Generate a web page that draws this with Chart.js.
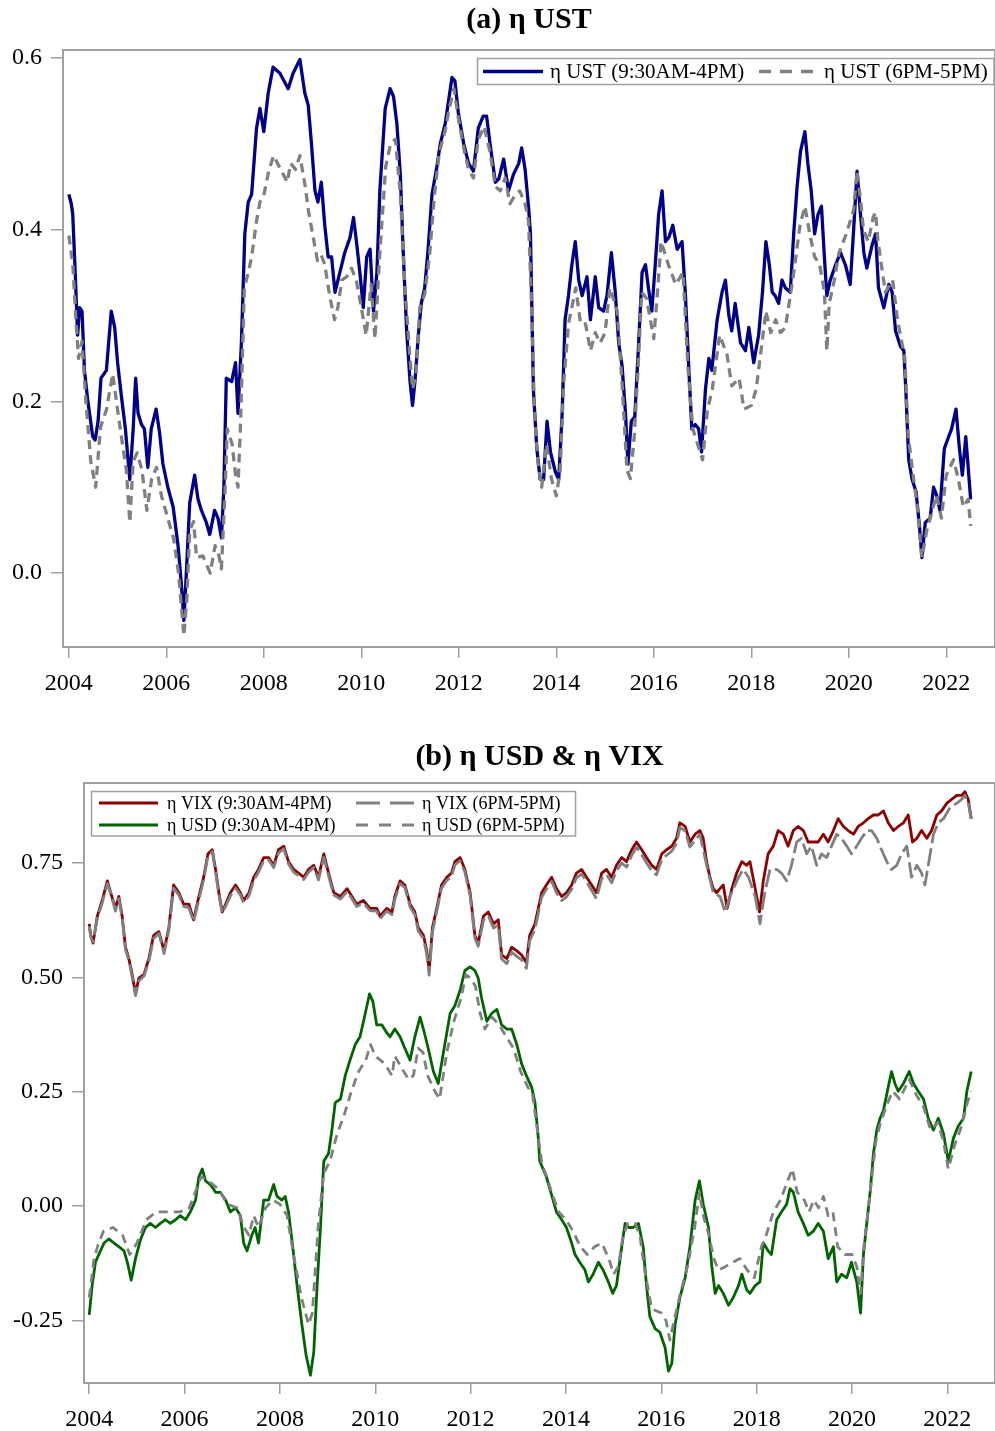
<!DOCTYPE html>
<html><head><meta charset="utf-8">
<script src="https://cdn.jsdelivr.net/npm/chart.js@4.4.0/dist/chart.umd.min.js"></script>
<style>
html,body{margin:0;padding:0;background:#fff;overflow:hidden;width:995px;height:1431px;}
#ca{position:absolute;left:0;top:0;}
#cb{position:absolute;left:0;top:715px;}
</style></head><body>
<canvas id="ca" width="1058" height="715"></canvas>
<canvas id="cb" width="1079" height="716"></canvas>
<script>
// ---------- DATA: [decimal year, value] ----------
const ustDay = [[2004.00,0.441],[2004.05,0.43],[2004.08,0.418],[2004.13,0.35],[2004.18,0.277],[2004.22,0.309],[2004.27,0.305],[2004.32,0.236],[2004.39,0.200],[2004.49,0.159],[2004.54,0.155],[2004.60,0.177],[2004.66,0.227],[2004.77,0.236],[2004.87,0.305],[2004.94,0.286],[2005.00,0.245],[2005.08,0.205],[2005.16,0.168],[2005.25,0.109],[2005.32,0.168],[2005.37,0.227],[2005.42,0.186],[2005.49,0.173],[2005.55,0.168],[2005.62,0.123],[2005.69,0.168],[2005.79,0.191],[2005.86,0.164],[2005.93,0.127],[2006.03,0.100],[2006.14,0.077],[2006.24,0.032],[2006.31,-0.014],[2006.36,-0.055],[2006.41,0.000],[2006.48,0.082],[2006.58,0.114],[2006.65,0.086],[2006.72,0.073],[2006.82,0.059],[2006.89,0.045],[2006.99,0.073],[2007.06,0.064],[2007.13,0.041],[2007.18,0.100],[2007.23,0.227],[2007.34,0.223],[2007.42,0.245],[2007.47,0.186],[2007.54,0.268],[2007.61,0.395],[2007.68,0.432],[2007.75,0.441],[2007.85,0.518],[2007.92,0.541],[2008.00,0.514],[2008.09,0.559],[2008.19,0.589],[2008.33,0.582],[2008.50,0.564],[2008.60,0.582],[2008.74,0.598],[2008.84,0.559],[2008.91,0.545],[2008.97,0.505],[2009.05,0.445],[2009.11,0.432],[2009.18,0.455],[2009.25,0.405],[2009.32,0.368],[2009.39,0.368],[2009.46,0.327],[2009.56,0.350],[2009.66,0.373],[2009.77,0.391],[2009.84,0.414],[2009.90,0.386],[2009.97,0.350],[2010.04,0.309],[2010.11,0.368],[2010.18,0.377],[2010.25,0.305],[2010.32,0.350],[2010.38,0.445],[2010.49,0.541],[2010.59,0.564],[2010.66,0.555],[2010.73,0.523],[2010.80,0.464],[2010.86,0.373],[2010.93,0.282],[2011.00,0.223],[2011.05,0.195],[2011.10,0.223],[2011.17,0.277],[2011.23,0.314],[2011.30,0.332],[2011.37,0.377],[2011.45,0.441],[2011.55,0.473],[2011.62,0.500],[2011.72,0.523],[2011.79,0.550],[2011.86,0.577],[2011.92,0.573],[2011.99,0.536],[2012.10,0.500],[2012.20,0.477],[2012.30,0.468],[2012.40,0.518],[2012.50,0.532],[2012.57,0.532],[2012.64,0.500],[2012.75,0.455],[2012.82,0.459],[2012.92,0.482],[2013.02,0.445],[2013.12,0.464],[2013.23,0.477],[2013.29,0.495],[2013.36,0.470],[2013.43,0.427],[2013.47,0.395],[2013.50,0.305],[2013.53,0.214],[2013.60,0.145],[2013.67,0.109],[2013.74,0.109],[2013.81,0.177],[2013.88,0.141],[2013.98,0.118],[2014.05,0.109],[2014.12,0.186],[2014.18,0.295],[2014.25,0.323],[2014.32,0.359],[2014.39,0.386],[2014.46,0.341],[2014.53,0.323],[2014.63,0.345],[2014.70,0.295],[2014.80,0.345],[2014.87,0.309],[2014.97,0.305],[2015.04,0.323],[2015.13,0.373],[2015.21,0.327],[2015.28,0.268],[2015.35,0.241],[2015.42,0.186],[2015.47,0.127],[2015.54,0.177],[2015.61,0.182],[2015.69,0.268],[2015.76,0.350],[2015.83,0.359],[2015.89,0.332],[2015.96,0.305],[2016.03,0.359],[2016.10,0.418],[2016.17,0.445],[2016.24,0.386],[2016.31,0.391],[2016.39,0.405],[2016.48,0.377],[2016.58,0.386],[2016.65,0.323],[2016.72,0.236],[2016.78,0.168],[2016.85,0.173],[2016.92,0.168],[2016.98,0.141],[2017.06,0.214],[2017.13,0.250],[2017.19,0.236],[2017.30,0.295],[2017.40,0.327],[2017.47,0.341],[2017.54,0.300],[2017.60,0.282],[2017.67,0.314],[2017.78,0.268],[2017.88,0.259],[2017.95,0.286],[2018.05,0.245],[2018.15,0.277],[2018.23,0.327],[2018.30,0.386],[2018.37,0.359],[2018.43,0.327],[2018.49,0.323],[2018.56,0.314],[2018.63,0.341],[2018.70,0.332],[2018.80,0.327],[2018.87,0.395],[2018.94,0.450],[2019.01,0.491],[2019.10,0.514],[2019.16,0.477],[2019.23,0.445],[2019.30,0.395],[2019.37,0.418],[2019.44,0.427],[2019.50,0.368],[2019.55,0.323],[2019.62,0.341],[2019.73,0.359],[2019.83,0.373],[2019.93,0.359],[2020.03,0.336],[2020.10,0.400],[2020.17,0.468],[2020.24,0.418],[2020.31,0.373],[2020.37,0.355],[2020.48,0.382],[2020.55,0.395],[2020.61,0.332],[2020.72,0.309],[2020.82,0.336],[2020.89,0.327],[2020.96,0.282],[2021.06,0.264],[2021.13,0.259],[2021.17,0.214],[2021.23,0.132],[2021.30,0.109],[2021.38,0.095],[2021.45,0.055],[2021.50,0.018],[2021.57,0.059],[2021.67,0.064],[2021.74,0.100],[2021.80,0.091],[2021.87,0.073],[2021.96,0.145],[2022.05,0.159],[2022.11,0.168],[2022.20,0.191],[2022.27,0.145],[2022.33,0.114],[2022.40,0.159],[2022.45,0.123],[2022.50,0.086]];

const ustNight = [[2004.00,0.393],[2004.08,0.36],[2004.15,0.29],[2004.20,0.25],[2004.27,0.27],[2004.35,0.20],[2004.45,0.13],[2004.55,0.100],[2004.65,0.17],[2004.77,0.19],[2004.90,0.232],[2005.00,0.19],[2005.10,0.15],[2005.18,0.12],[2005.25,0.059],[2005.32,0.13],[2005.40,0.14],[2005.50,0.12],[2005.60,0.073],[2005.70,0.11],[2005.80,0.123],[2005.90,0.09],[2006.00,0.07],[2006.15,0.04],[2006.25,0.0],[2006.36,-0.073],[2006.42,-0.03],[2006.48,0.05],[2006.56,0.06],[2006.62,0.018],[2006.75,0.02],[2006.90,0.0],[2007.00,0.032],[2007.08,0.02],[2007.13,0.005],[2007.20,0.09],[2007.25,0.168],[2007.35,0.15],[2007.42,0.114],[2007.47,0.10],[2007.52,0.17],[2007.60,0.332],[2007.68,0.35],[2007.75,0.368],[2007.85,0.41],[2007.92,0.432],[2008.00,0.44],[2008.10,0.468],[2008.20,0.486],[2008.30,0.475],[2008.40,0.464],[2008.48,0.455],[2008.55,0.477],[2008.65,0.47],[2008.74,0.486],[2008.85,0.45],[2008.92,0.42],[2009.00,0.395],[2009.10,0.364],[2009.18,0.37],[2009.25,0.359],[2009.35,0.323],[2009.45,0.295],[2009.52,0.31],[2009.60,0.341],[2009.70,0.345],[2009.80,0.355],[2009.90,0.34],[2010.00,0.309],[2010.10,0.277],[2010.20,0.336],[2010.28,0.273],[2010.38,0.373],[2010.50,0.473],[2010.60,0.500],[2010.70,0.505],[2010.80,0.441],[2010.90,0.327],[2011.00,0.25],[2011.05,0.214],[2011.12,0.23],[2011.20,0.309],[2011.30,0.325],[2011.40,0.37],[2011.50,0.44],[2011.60,0.49],[2011.72,0.515],[2011.80,0.54],[2011.90,0.564],[2011.99,0.53],[2012.10,0.495],[2012.20,0.47],[2012.30,0.46],[2012.40,0.505],[2012.52,0.52],[2012.64,0.49],[2012.75,0.45],[2012.85,0.445],[2012.95,0.46],[2013.05,0.43],[2013.15,0.44],[2013.25,0.445],[2013.36,0.43],[2013.43,0.41],[2013.50,0.30],[2013.55,0.19],[2013.62,0.13],[2013.70,0.10],[2013.80,0.15],[2013.90,0.11],[2014.00,0.09],[2014.08,0.12],[2014.15,0.22],[2014.25,0.29],[2014.40,0.332],[2014.50,0.29],[2014.60,0.29],[2014.70,0.259],[2014.80,0.28],[2014.90,0.268],[2015.00,0.28],[2015.10,0.332],[2015.25,0.305],[2015.35,0.22],[2015.45,0.12],[2015.52,0.11],[2015.60,0.16],[2015.68,0.24],[2015.75,0.327],[2015.85,0.32],[2016.00,0.273],[2016.08,0.33],[2016.15,0.386],[2016.30,0.359],[2016.45,0.336],[2016.60,0.350],[2016.70,0.24],[2016.80,0.168],[2016.90,0.15],[2017.00,0.132],[2017.10,0.19],[2017.20,0.214],[2017.35,0.277],[2017.50,0.255],[2017.60,0.218],[2017.75,0.227],[2017.85,0.191],[2018.00,0.195],[2018.10,0.214],[2018.20,0.259],[2018.30,0.305],[2018.40,0.28],[2018.50,0.295],[2018.60,0.28],[2018.70,0.286],[2018.85,0.341],[2019.00,0.405],[2019.10,0.427],[2019.20,0.395],[2019.30,0.368],[2019.40,0.36],[2019.50,0.327],[2019.55,0.259],[2019.60,0.314],[2019.70,0.34],[2019.80,0.373],[2019.95,0.395],[2020.10,0.423],[2020.17,0.468],[2020.25,0.43],[2020.30,0.40],[2020.40,0.386],[2020.50,0.414],[2020.55,0.42],[2020.60,0.386],[2020.75,0.327],[2020.90,0.341],[2021.00,0.295],[2021.15,0.25],[2021.22,0.16],[2021.30,0.123],[2021.40,0.08],[2021.50,0.018],[2021.60,0.05],[2021.70,0.07],[2021.80,0.091],[2021.90,0.064],[2022.00,0.114],[2022.15,0.132],[2022.25,0.109],[2022.35,0.077],[2022.45,0.086],[2022.50,0.055]];

const vixDay = [[2004.00,0.617],[2004.03,0.592],[2004.08,0.575],[2004.17,0.634],[2004.27,0.668],[2004.38,0.711],[2004.45,0.685],[2004.55,0.651],[2004.62,0.677],[2004.69,0.634],[2004.76,0.566],[2004.83,0.541],[2004.90,0.507],[2004.97,0.464],[2005.04,0.498],[2005.15,0.507],[2005.25,0.541],[2005.35,0.592],[2005.46,0.600],[2005.57,0.558],[2005.67,0.609],[2005.77,0.702],[2005.88,0.685],[2005.98,0.660],[2006.09,0.660],[2006.19,0.626],[2006.30,0.677],[2006.40,0.719],[2006.49,0.770],[2006.58,0.779],[2006.65,0.736],[2006.72,0.685],[2006.79,0.643],[2006.86,0.660],[2006.96,0.685],[2007.07,0.702],[2007.17,0.685],[2007.24,0.668],[2007.35,0.685],[2007.45,0.719],[2007.55,0.736],[2007.66,0.762],[2007.76,0.762],[2007.87,0.745],[2007.97,0.779],[2008.08,0.787],[2008.18,0.753],[2008.29,0.736],[2008.39,0.728],[2008.50,0.719],[2008.60,0.736],[2008.71,0.745],[2008.81,0.719],[2008.92,0.770],[2009.02,0.728],[2009.13,0.685],[2009.27,0.677],[2009.41,0.694],[2009.51,0.677],[2009.61,0.660],[2009.75,0.668],[2009.89,0.651],[2010.03,0.651],[2010.10,0.634],[2010.24,0.651],[2010.35,0.643],[2010.41,0.677],[2010.52,0.711],[2010.62,0.702],[2010.73,0.660],[2010.83,0.643],[2010.90,0.609],[2011.01,0.592],[2011.08,0.558],[2011.13,0.515],[2011.20,0.609],[2011.29,0.651],[2011.39,0.702],[2011.50,0.719],[2011.60,0.728],[2011.67,0.753],[2011.78,0.762],[2011.88,0.736],[2011.99,0.685],[2012.09,0.592],[2012.16,0.575],[2012.27,0.634],[2012.37,0.643],[2012.48,0.617],[2012.58,0.626],[2012.65,0.549],[2012.76,0.541],[2012.86,0.566],[2012.97,0.558],[2013.07,0.549],[2013.17,0.532],[2013.24,0.592],[2013.35,0.617],[2013.42,0.651],[2013.49,0.685],[2013.59,0.702],[2013.70,0.719],[2013.80,0.694],[2013.91,0.677],[2014.01,0.685],[2014.12,0.702],[2014.22,0.728],[2014.33,0.736],[2014.43,0.719],[2014.54,0.702],[2014.64,0.685],[2014.75,0.728],[2014.85,0.736],[2014.96,0.719],[2015.06,0.745],[2015.17,0.762],[2015.27,0.753],[2015.38,0.779],[2015.48,0.796],[2015.59,0.779],[2015.69,0.762],[2015.80,0.745],[2015.90,0.736],[2016.01,0.770],[2016.11,0.779],[2016.22,0.787],[2016.32,0.804],[2016.39,0.838],[2016.50,0.830],[2016.60,0.796],[2016.71,0.813],[2016.81,0.821],[2016.88,0.804],[2016.95,0.753],[2017.02,0.719],[2017.09,0.694],[2017.16,0.685],[2017.23,0.694],[2017.30,0.702],[2017.38,0.651],[2017.48,0.694],[2017.58,0.728],[2017.69,0.753],[2017.79,0.745],[2017.86,0.753],[2017.97,0.694],[2018.06,0.643],[2018.14,0.711],[2018.24,0.770],[2018.35,0.787],[2018.45,0.821],[2018.56,0.813],[2018.66,0.787],[2018.77,0.821],[2018.87,0.830],[2018.98,0.821],[2019.08,0.796],[2019.19,0.796],[2019.29,0.796],[2019.40,0.813],[2019.50,0.796],[2019.61,0.821],[2019.71,0.847],[2019.82,0.830],[2019.92,0.821],[2020.03,0.813],[2020.13,0.830],[2020.24,0.838],[2020.34,0.847],[2020.45,0.855],[2020.55,0.855],[2020.66,0.864],[2020.76,0.838],[2020.87,0.821],[2020.97,0.830],[2021.08,0.838],[2021.18,0.855],[2021.27,0.796],[2021.36,0.804],[2021.46,0.821],[2021.57,0.804],[2021.67,0.821],[2021.78,0.855],[2021.88,0.864],[2021.99,0.881],[2022.09,0.889],[2022.20,0.898],[2022.30,0.898],[2022.37,0.906],[2022.44,0.889],[2022.50,0.847]];

const vixNight = [[2004.00,0.612],[2004.03,0.590],[2004.08,0.578],[2004.17,0.630],[2004.27,0.662],[2004.38,0.705],[2004.45,0.683],[2004.55,0.645],[2004.62,0.672],[2004.69,0.630],[2004.76,0.560],[2004.83,0.538],[2004.90,0.500],[2004.97,0.460],[2005.04,0.492],[2005.15,0.503],[2005.25,0.535],[2005.35,0.585],[2005.46,0.596],[2005.57,0.552],[2005.67,0.604],[2005.77,0.695],[2005.88,0.680],[2005.98,0.655],[2006.09,0.652],[2006.19,0.622],[2006.30,0.670],[2006.40,0.713],[2006.49,0.765],[2006.58,0.775],[2006.65,0.730],[2006.72,0.680],[2006.79,0.640],[2006.86,0.655],[2006.96,0.678],[2007.07,0.695],[2007.17,0.680],[2007.24,0.663],[2007.35,0.678],[2007.45,0.712],[2007.55,0.730],[2007.66,0.755],[2007.76,0.757],[2007.87,0.740],[2007.97,0.772],[2008.08,0.781],[2008.18,0.748],[2008.29,0.730],[2008.39,0.722],[2008.50,0.714],[2008.60,0.730],[2008.71,0.740],[2008.81,0.713],[2008.92,0.762],[2009.02,0.722],[2009.13,0.680],[2009.27,0.671],[2009.41,0.688],[2009.51,0.672],[2009.61,0.655],[2009.75,0.662],[2009.89,0.646],[2010.03,0.645],[2010.10,0.628],[2010.24,0.645],[2010.35,0.637],[2010.41,0.670],[2010.52,0.705],[2010.62,0.697],[2010.73,0.654],[2010.83,0.637],[2010.90,0.602],[2011.01,0.585],[2011.08,0.550],[2011.13,0.505],[2011.20,0.600],[2011.29,0.644],[2011.39,0.695],[2011.50,0.712],[2011.60,0.720],[2011.67,0.746],[2011.78,0.755],[2011.88,0.730],[2011.99,0.678],[2012.09,0.585],[2012.16,0.568],[2012.27,0.625],[2012.37,0.635],[2012.48,0.608],[2012.58,0.615],[2012.65,0.540],[2012.76,0.530],[2012.86,0.555],[2012.97,0.546],[2013.07,0.538],[2013.17,0.520],[2013.24,0.580],[2013.35,0.605],[2013.42,0.640],[2013.49,0.675],[2013.59,0.693],[2013.70,0.710],[2013.80,0.685],[2013.91,0.668],[2014.01,0.676],[2014.12,0.693],[2014.22,0.718],[2014.33,0.726],[2014.43,0.709],[2014.54,0.690],[2014.64,0.672],[2014.75,0.716],[2014.85,0.725],[2014.96,0.707],[2015.06,0.733],[2015.17,0.750],[2015.27,0.741],[2015.38,0.767],[2015.48,0.785],[2015.59,0.768],[2015.69,0.750],[2015.80,0.733],[2015.90,0.724],[2016.01,0.758],[2016.11,0.767],[2016.22,0.776],[2016.32,0.793],[2016.39,0.828],[2016.50,0.820],[2016.60,0.785],[2016.71,0.800],[2016.81,0.813],[2016.95,0.745],[2017.09,0.685],[2017.23,0.677],[2017.34,0.643],[2017.44,0.677],[2017.62,0.719],[2017.72,0.736],[2017.83,0.719],[2017.97,0.677],[2018.07,0.617],[2018.17,0.685],[2018.28,0.736],[2018.42,0.736],[2018.52,0.728],[2018.63,0.711],[2018.73,0.745],[2018.84,0.796],[2018.94,0.804],[2019.05,0.770],[2019.15,0.787],[2019.26,0.745],[2019.36,0.770],[2019.47,0.762],[2019.57,0.787],[2019.68,0.813],[2019.78,0.804],[2019.89,0.787],[2019.99,0.770],[2020.10,0.787],[2020.20,0.804],[2020.31,0.821],[2020.41,0.821],[2020.52,0.804],[2020.62,0.779],[2020.73,0.753],[2020.83,0.736],[2020.94,0.745],[2021.04,0.770],[2021.15,0.787],[2021.25,0.719],[2021.36,0.745],[2021.46,0.728],[2021.53,0.702],[2021.60,0.745],[2021.71,0.813],[2021.81,0.838],[2021.92,0.847],[2022.06,0.872],[2022.20,0.881],[2022.30,0.889],[2022.37,0.898],[2022.44,0.881],[2022.50,0.847]];

const usdDay = [[2004.00,-0.238],[2004.06,-0.174],[2004.13,-0.123],[2004.20,-0.106],[2004.31,-0.081],[2004.41,-0.072],[2004.52,-0.081],[2004.62,-0.089],[2004.73,-0.098],[2004.80,-0.123],[2004.88,-0.162],[2004.97,-0.115],[2005.08,-0.072],[2005.18,-0.047],[2005.28,-0.038],[2005.39,-0.047],[2005.49,-0.038],[2005.60,-0.030],[2005.70,-0.038],[2005.81,-0.030],[2005.91,-0.021],[2006.02,-0.030],[2006.12,-0.013],[2006.23,0.013],[2006.30,0.064],[2006.37,0.081],[2006.44,0.055],[2006.54,0.047],[2006.65,0.030],[2006.75,0.030],[2006.86,0.013],[2006.96,-0.013],[2007.07,-0.004],[2007.17,-0.021],[2007.24,-0.081],[2007.31,-0.098],[2007.41,-0.064],[2007.48,-0.047],[2007.55,-0.081],[2007.66,0.013],[2007.76,0.013],[2007.87,0.047],[2007.94,0.021],[2008.04,0.013],[2008.11,0.021],[2008.18,-0.013],[2008.25,-0.072],[2008.36,-0.174],[2008.46,-0.259],[2008.55,-0.327],[2008.64,-0.370],[2008.71,-0.319],[2008.78,-0.174],[2008.85,-0.047],[2008.92,0.098],[2009.02,0.115],[2009.09,0.166],[2009.16,0.226],[2009.27,0.234],[2009.37,0.285],[2009.47,0.319],[2009.58,0.353],[2009.68,0.370],[2009.79,0.421],[2009.88,0.464],[2009.95,0.447],[2010.03,0.396],[2010.14,0.396],[2010.24,0.379],[2010.31,0.370],[2010.41,0.387],[2010.52,0.370],[2010.62,0.345],[2010.73,0.319],[2010.83,0.370],[2010.94,0.413],[2011.01,0.387],[2011.11,0.345],[2011.22,0.294],[2011.32,0.268],[2011.43,0.336],[2011.57,0.421],[2011.67,0.438],[2011.78,0.472],[2011.88,0.515],[2011.99,0.523],[2012.09,0.515],[2012.16,0.498],[2012.23,0.455],[2012.34,0.404],[2012.44,0.421],[2012.55,0.430],[2012.65,0.396],[2012.76,0.387],[2012.86,0.387],[2012.97,0.353],[2013.07,0.311],[2013.17,0.285],[2013.28,0.260],[2013.35,0.226],[2013.42,0.149],[2013.45,0.098],[2013.52,0.081],[2013.59,0.064],[2013.66,0.038],[2013.73,0.013],[2013.80,-0.013],[2013.91,-0.030],[2014.01,-0.047],[2014.12,-0.081],[2014.19,-0.106],[2014.29,-0.123],[2014.40,-0.140],[2014.47,-0.166],[2014.57,-0.149],[2014.68,-0.123],[2014.78,-0.140],[2014.89,-0.166],[2014.98,-0.191],[2015.06,-0.174],[2015.17,-0.089],[2015.24,-0.038],[2015.31,-0.047],[2015.41,-0.047],[2015.52,-0.038],[2015.62,-0.089],[2015.69,-0.174],[2015.76,-0.242],[2015.87,-0.268],[2015.97,-0.276],[2016.08,-0.310],[2016.15,-0.361],[2016.22,-0.344],[2016.29,-0.259],[2016.39,-0.200],[2016.50,-0.157],[2016.60,-0.089],[2016.71,0.013],[2016.80,0.055],[2016.88,0.004],[2016.99,-0.047],[2017.06,-0.132],[2017.13,-0.191],[2017.20,-0.174],[2017.30,-0.191],[2017.41,-0.217],[2017.51,-0.200],[2017.62,-0.174],[2017.69,-0.149],[2017.79,-0.183],[2017.86,-0.191],[2017.97,-0.174],[2018.07,-0.166],[2018.14,-0.081],[2018.24,-0.098],[2018.31,-0.106],[2018.42,-0.030],[2018.52,-0.013],[2018.63,0.004],[2018.70,0.038],[2018.77,0.030],[2018.87,-0.013],[2018.98,-0.038],[2019.08,-0.064],[2019.19,-0.055],[2019.29,-0.038],[2019.40,-0.055],[2019.50,-0.115],[2019.61,-0.089],[2019.68,-0.166],[2019.78,-0.149],[2019.89,-0.157],[2019.99,-0.123],[2020.10,-0.166],[2020.18,-0.234],[2020.24,-0.106],[2020.31,-0.038],[2020.38,0.030],[2020.45,0.115],[2020.52,0.166],[2020.59,0.192],[2020.66,0.209],[2020.76,0.260],[2020.83,0.294],[2020.90,0.268],[2020.97,0.251],[2021.08,0.268],[2021.20,0.294],[2021.29,0.268],[2021.39,0.251],[2021.50,0.234],[2021.60,0.192],[2021.71,0.166],[2021.81,0.192],[2021.92,0.158],[2022.02,0.098],[2022.13,0.149],[2022.23,0.175],[2022.34,0.192],[2022.41,0.251],[2022.50,0.294]];

const usdNight = [[2004.00,-0.200],[2004.10,-0.115],[2004.20,-0.080],[2004.30,-0.055],[2004.50,-0.047],[2004.70,-0.064],[2004.85,-0.106],[2005.00,-0.081],[2005.20,-0.030],[2005.40,-0.013],[2005.60,-0.013],[2005.90,-0.013],[2006.10,-0.004],[2006.25,0.038],[2006.35,0.064],[2006.50,0.055],[2006.70,0.038],[2006.90,0.004],[2007.10,-0.004],[2007.25,-0.047],[2007.35,-0.064],[2007.45,-0.021],[2007.55,-0.047],[2007.70,-0.004],[2007.85,0.013],[2008.00,0.004],[2008.15,-0.021],[2008.30,-0.115],[2008.45,-0.200],[2008.60,-0.259],[2008.68,-0.234],[2008.80,-0.047],[2008.92,0.072],[2009.05,0.098],[2009.20,0.158],[2009.35,0.200],[2009.50,0.251],[2009.65,0.294],[2009.80,0.319],[2009.90,0.353],[2010.00,0.328],[2010.20,0.311],[2010.35,0.285],[2010.41,0.328],[2010.55,0.302],[2010.70,0.277],[2010.80,0.285],[2010.90,0.345],[2011.00,0.336],[2011.10,0.285],[2011.25,0.251],[2011.35,0.234],[2011.50,0.336],[2011.65,0.404],[2011.80,0.455],[2011.90,0.506],[2012.00,0.498],[2012.10,0.481],[2012.20,0.421],[2012.30,0.387],[2012.45,0.413],[2012.60,0.396],[2012.75,0.370],[2012.90,0.345],[2013.05,0.294],[2013.20,0.260],[2013.30,0.243],[2013.40,0.166],[2013.50,0.090],[2013.60,0.064],[2013.70,0.030],[2013.85,-0.013],[2014.00,-0.030],[2014.15,-0.055],[2014.30,-0.089],[2014.45,-0.106],[2014.60,-0.089],[2014.75,-0.081],[2014.90,-0.115],[2015.00,-0.149],[2015.10,-0.132],[2015.20,-0.064],[2015.30,-0.038],[2015.45,-0.038],[2015.55,-0.064],[2015.65,-0.140],[2015.80,-0.225],[2016.00,-0.234],[2016.10,-0.251],[2016.18,-0.293],[2016.25,-0.259],[2016.40,-0.191],[2016.55,-0.132],[2016.70,-0.047],[2016.80,0.030],[2016.88,-0.021],[2017.00,-0.064],[2017.10,-0.115],[2017.20,-0.140],[2017.35,-0.132],[2017.50,-0.123],[2017.65,-0.115],[2017.80,-0.140],[2017.95,-0.157],[2018.10,-0.089],[2018.20,-0.064],[2018.35,-0.013],[2018.50,0.013],[2018.65,0.055],[2018.75,0.081],[2018.85,0.030],[2019.00,0.013],[2019.10,-0.013],[2019.20,0.013],[2019.30,-0.004],[2019.40,0.021],[2019.50,-0.021],[2019.60,-0.013],[2019.70,-0.089],[2019.85,-0.106],[2020.00,-0.106],[2020.10,-0.132],[2020.18,-0.191],[2020.25,-0.089],[2020.40,0.047],[2020.50,0.141],[2020.60,0.183],[2020.75,0.226],[2020.85,0.251],[2021.00,0.234],[2021.20,0.277],[2021.35,0.243],[2021.50,0.217],[2021.65,0.166],[2021.80,0.183],[2021.92,0.141],[2022.02,0.081],[2022.15,0.132],[2022.30,0.175],[2022.42,0.226],[2022.50,0.251]];

const yearTicks = [2004,2006,2008,2010,2012,2014,2016,2018,2020,2022];
const ustTicks = [0.0,0.2,0.4,0.6];
const usdVixTicks = [-0.25,0.00,0.25,0.50,0.75];
const titleA = '(a) η UST';
const titleB = '(b) η USD & η VIX';

// ---------- helpers ----------
const FONT = "'Liberation Serif','Times New Roman',serif";
const GRAY = '#a0a0a0';
const toXY = arr => arr.map(p => ({x: p[0], y: p[1]}));

const frame = {
  id: 'frame',
  afterDatasetsDraw(chart) {
    const {ctx, chartArea: a} = chart;
    ctx.save();
    ctx.strokeStyle = GRAY; ctx.lineWidth = 2;
    ctx.beginPath();
    ctx.moveTo(a.left, a.top); ctx.lineTo(a.right, a.top); ctx.lineTo(a.right, a.bottom);
    ctx.stroke();
    ctx.restore();
  }
};

function boxLegend(spec) {
  return {
    id: 'boxLegend',
    afterDatasetsDraw(chart) {
      const ctx = chart.ctx;
      ctx.save();
      ctx.fillStyle = '#fff';
      ctx.fillRect(spec.box[0], spec.box[1], spec.box[2] - spec.box[0], spec.box[3] - spec.box[1]);
      ctx.strokeStyle = GRAY; ctx.lineWidth = 1.5;
      ctx.strokeRect(spec.box[0], spec.box[1], spec.box[2] - spec.box[0], spec.box[3] - spec.box[1]);
      ctx.font = spec.fontSize + 'px ' + FONT;
      ctx.textBaseline = 'middle';
      ctx.textAlign = 'left';
      spec.items.forEach(it => {
        const ds = chart.data.datasets[it.ds];
        ctx.strokeStyle = ds.borderColor;
        ctx.lineWidth = it.w;
        ctx.setLineDash(it.dash || []);
        ctx.beginPath();
        ctx.moveTo(it.x0, it.y); ctx.lineTo(it.x1, it.y);
        ctx.stroke();
        ctx.setLineDash([]);
        ctx.fillStyle = '#000';
        ctx.fillText(ds.label, it.tx, it.y + 1);
      });
      ctx.restore();
    }
  };
}

function xScale(minV, h) {
  return {
    type: 'linear', min: minV, max: 2023.0,
    afterBuildTicks: s => { s.ticks = yearTicks.map(v => ({value: v})); },
    afterFit: s => { s.height = h; },
    ticks: {callback: v => String(v), font: {family: FONT, size: 24}, color: '#000', padding: 11, maxRotation: 0, autoSkip: false},
    grid: {drawOnChartArea: false, drawTicks: true, tickLength: 11, color: GRAY, lineWidth: 1.5},
    border: {color: GRAY, width: 2}
  };
}
function yScale(minV, maxV, ticks, dec, w) {
  return {
    type: 'linear', min: minV, max: maxV,
    afterBuildTicks: s => { s.ticks = ticks.map(v => ({value: v})); },
    afterFit: s => { s.width = w; },
    ticks: {callback: v => Number(v).toFixed(dec), font: {family: FONT, size: 24}, color: '#000', padding: 9, autoSkip: false},
    grid: {drawOnChartArea: false, drawTicks: true, tickLength: 12, color: GRAY, lineWidth: 1.5},
    border: {color: GRAY, width: 2}
  };
}
// empty right-hand spacer axis so the title stays centred over the plot area
function spacer(w) {
  return {
    type: 'linear', position: 'right', display: true, min: 0, max: 1,
    afterFit: s => { s.width = w; },
    ticks: {display: false}, grid: {display: false, drawTicks: false}, border: {display: false}
  };
}
const lineBase = {pointRadius: 0, tension: 0, borderJoinStyle: 'round', fill: false};

// ---------- chart (a) ----------
new Chart(document.getElementById('ca'), {
  type: 'line',
  data: {datasets: [
    Object.assign({label: 'η UST (9:30AM-4PM)', data: toXY(ustDay), borderColor: '#00008B', borderWidth: 3.3, order: 2}, lineBase),
    Object.assign({label: 'η UST (6PM-5PM)', data: toXY(ustNight), borderColor: '#808080', borderWidth: 3.3, borderDash: [9, 6], order: 1}, lineBase)
  ]},
  options: {
    responsive: false, animation: false, devicePixelRatio: 1,
    layout: {padding: 0},
    plugins: {
      legend: {display: false}, tooltip: {enabled: false},
      title: {display: true, text: titleA, color: '#000', font: {family: FONT, size: 30, weight: 'bold', lineHeight: 1.2}, padding: {top: 2.5, bottom: 11.5}}
    },
    scales: {x: xScale(2003.88, 68), y: yScale(-0.086, 0.609, ustTicks, 1, 63), pad: spacer(63)}
  },
  plugins: [frame, boxLegend({
    box: [477.5, 58.5, 994, 84.5], fontSize: 21,
    items: [
      {ds: 0, x0: 483, x1: 543, y: 71.5, w: 3.3, tx: 550},
      {ds: 1, x0: 759, x1: 813, y: 71.5, w: 3.3, dash: [12, 9], tx: 824}
    ]
  })]
});

// ---------- chart (b) ----------
new Chart(document.getElementById('cb'), {
  type: 'line',
  data: {datasets: [
    Object.assign({label: 'η VIX (9:30AM-4PM)', data: toXY(vixDay), borderColor: '#8B0000', borderWidth: 2.8, order: 4}, lineBase),
    Object.assign({label: 'η VIX (6PM-5PM)', data: toXY(vixNight), borderColor: '#808080', borderWidth: 2.8, borderDash: [18, 5], order: 2}, lineBase),
    Object.assign({label: 'η USD (9:30AM-4PM)', data: toXY(usdDay), borderColor: '#006400', borderWidth: 2.8, order: 3}, lineBase),
    Object.assign({label: 'η USD (6PM-5PM)', data: toXY(usdNight), borderColor: '#808080', borderWidth: 2.8, borderDash: [9, 6], order: 1}, lineBase)
  ]},
  options: {
    responsive: false, animation: false, devicePixelRatio: 1,
    layout: {padding: 0},
    plugins: {
      legend: {display: false}, tooltip: {enabled: false},
      title: {display: true, text: titleB, color: '#000', font: {family: FONT, size: 30, weight: 'bold', lineHeight: 1.2}, padding: {top: 24.5, bottom: 7.5}}
    },
    scales: {x: xScale(2003.89, 48), y: yScale(-0.387, 0.925, usdVixTicks, 2, 84), pad: spacer(84)}
  },
  plugins: [frame, boxLegend({
    box: [91.5, 76.5, 575.5, 121], fontSize: 18,
    items: [
      {ds: 0, x0: 99, x1: 158, y: 88, w: 2.8, tx: 167},
      {ds: 1, x0: 356, x1: 414, y: 88, w: 2.8, dash: [24, 10], tx: 422},
      {ds: 2, x0: 99, x1: 158, y: 110, w: 2.8, tx: 167},
      {ds: 3, x0: 356, x1: 414, y: 110, w: 2.8, dash: [12, 11], tx: 422}
    ]
  })]
});
</script>
</body></html>
